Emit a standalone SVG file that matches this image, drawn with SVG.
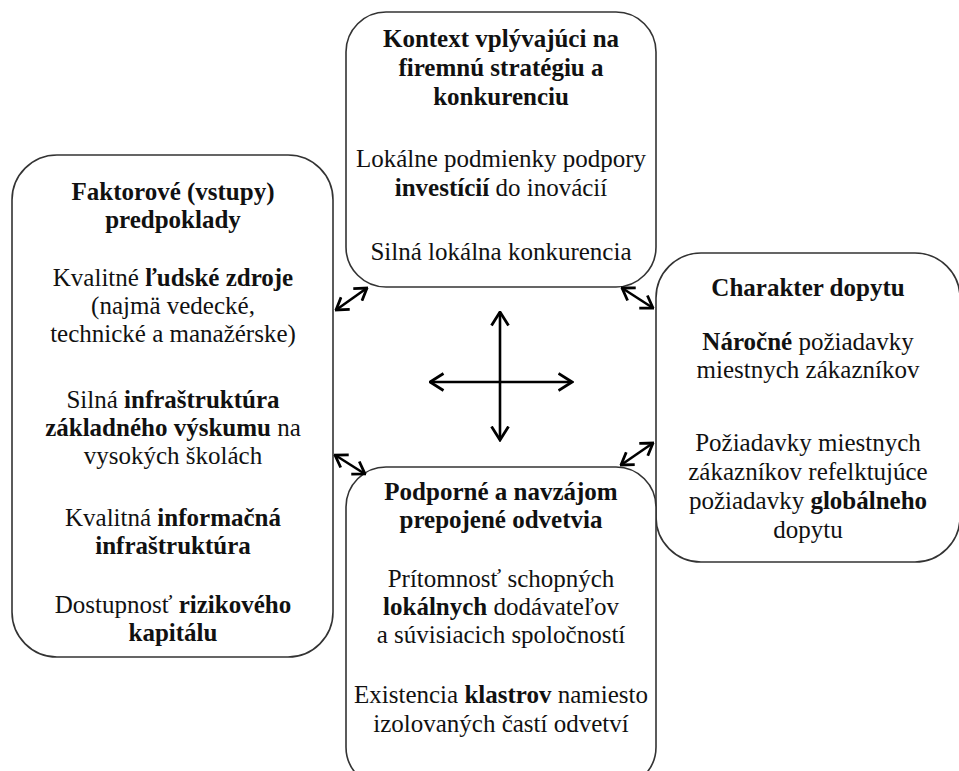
<svg xmlns="http://www.w3.org/2000/svg" width="959" height="771" viewBox="0 0 959 771">
<defs>
<style>
.box{fill:#fff;stroke:#333;stroke-width:1.6}
.t text{font-size:25px;fill:#111;text-anchor:middle}
.b{font-weight:bold}
.con{stroke:#000;stroke-width:2.6;fill:none;marker-start:url(#ah);marker-end:url(#ah)}
.cross{stroke:#000;stroke-width:2.6;fill:none;marker-start:url(#ahl);marker-end:url(#ahl)}
</style>
<marker id="ah" viewBox="0 0 14 18" refX="12.5" refY="9" markerWidth="14" markerHeight="18" orient="auto-start-reverse" markerUnits="userSpaceOnUse">
<path d="M1,1.5 L12.5,9 L1,16.5" fill="none" stroke="#000" stroke-width="2.8"/>
</marker>
<marker id="ahl" viewBox="0 0 16 20" refX="14.5" refY="10" markerWidth="16" markerHeight="20" orient="auto-start-reverse" markerUnits="userSpaceOnUse">
<path d="M1,1.5 L14.5,10 L1,18.5" fill="none" stroke="#000" stroke-width="2.8"/>
</marker>
</defs>
<rect width="959" height="771" fill="#fff"/>
<g class="t" font-family="Liberation Serif, serif">
<g id="top">
<rect class="box" x="346" y="12" width="310" height="275" rx="40"/>
<text x="501" y="47" class="b">Kontext vplývajúci na</text>
<text x="501" y="76" class="b">firemnú stratégiu a</text>
<text x="501" y="105" class="b">konkurenciu</text>
<text x="501" y="167">Lokálne podmienky podpory</text>
<text x="501" y="196"><tspan class="b">investícií</tspan> do inovácií</text>
<text x="501" y="260">Silná lokálna konkurencia</text>
</g>
<g id="left">
<rect class="box" x="12" y="155" width="321" height="502" rx="45"/>
<text x="173" y="200" class="b">Faktorové (vstupy)</text>
<text x="173" y="228" class="b">predpoklady</text>
<text x="173" y="286">Kvalitné <tspan class="b">ľudské zdroje</tspan></text>
<text x="173" y="314">(najmä vedecké,</text>
<text x="173" y="342">technické a manažérske)</text>
<text x="173" y="408">Silná <tspan class="b">infraštruktúra</tspan></text>
<text x="173" y="436"><tspan class="b">základného výskumu</tspan> na</text>
<text x="173" y="464">vysokých školách</text>
<text x="173" y="526">Kvalitná <tspan class="b">informačná</tspan></text>
<text x="173" y="554" class="b">infraštruktúra</text>
<text x="173" y="613">Dostupnosť <tspan class="b">rizikového</tspan></text>
<text x="173" y="641" class="b">kapitálu</text>
</g>
<g id="right">
<rect class="box" x="656" y="253" width="304" height="309" rx="45"/>
<text x="808" y="296" class="b">Charakter dopytu</text>
<text x="808" y="350"><tspan class="b">Náročné</tspan> požiadavky</text>
<text x="808" y="378">miestnych zákazníkov</text>
<text x="808" y="451">Požiadavky miestnych</text>
<text x="808" y="480">zákazníkov refelktujúce</text>
<text x="808" y="509">požiadavky <tspan class="b">globálneho</tspan></text>
<text x="808" y="538">dopytu</text>
</g>
<g id="bottom">
<rect class="box" x="346" y="467" width="310" height="320" rx="40"/>
<text x="501" y="500" class="b">Podporné a navzájom</text>
<text x="501" y="528" class="b">prepojené odvetvia</text>
<text x="501" y="587">Prítomnosť schopných</text>
<text x="501" y="615"><tspan class="b">lokálnych</tspan> dodávateľov</text>
<text x="501" y="643">a súvisiacich spoločností</text>
<text x="501" y="703">Existencia <tspan class="b">klastrov</tspan> namiesto</text>
<text x="501" y="732">izolovaných častí odvetví</text>
</g>
</g>
<g id="connectors">
<line class="con" x1="336" y1="310" x2="367" y2="288"/>
<line class="con" x1="622" y1="288" x2="653" y2="308"/>
<line class="con" x1="335" y1="455" x2="365" y2="474"/>
<line class="con" x1="653" y1="443" x2="621" y2="465"/>
<line class="cross" x1="500" y1="312" x2="500" y2="440"/>
<line class="cross" x1="430" y1="382" x2="572" y2="382"/>
</g>
</svg>
